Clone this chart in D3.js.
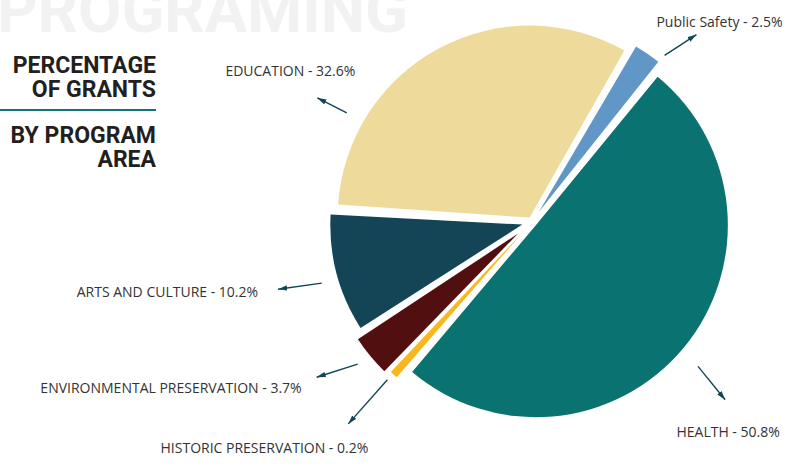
<!DOCTYPE html>
<html>
<head>
<meta charset="utf-8">
<script src="https://cdn.jsdelivr.net/npm/d3@7"></script>
<style>
  html, body { margin: 0; padding: 0; background: #fff; }
  svg { display: block; }
</style>
</head>
<body>
<div id="chart"></div>
<script>
// chart data, in the order the slices run clockwise
const categories = ["Public Safety", "HEALTH", "HISTORIC PRESERVATION", "ENVIRONMENTAL PRESERVATION", "ARTS AND CULTURE", "EDUCATION"];
const percentages = [2.5, 50.8, 0.2, 3.7, 10.2, 32.6];
const sliceColors = ["#6197c6", "#0a7270", "#f9b71e", "#520f0f", "#134556", "#eedb9b"];

// how far each slice is pulled out of the pie
const explode = [12, 5, 14, 18, 10, 5];

// label callouts: arrow start (angle, radius from pie centre), arrow heading + length,
// text offset from the arrow tip
const callouts = [
  { angle: 38.5, r: 213, dir: 57, len: 38, dx: 23, dy: -8, anchor: "middle" },
  { angle: 131, r: 220, dir: 141, len: 43, dx: 3, dy: 37, anchor: "middle" },
  { angle: 222.5, r: 214, dir: 221.6, len: 59, dx: 20, dy: 29, anchor: "end" },
  { angle: 230.8, r: 225, dir: 252.4, len: 43, dx: -15, dy: 16, anchor: "end" },
  { angle: 253.8, r: 219, dir: 262, len: 44, dx: -20, dy: 8, anchor: "end" },
  { angle: 300.5, r: 215, dir: 297, len: 33, dx: -27, dy: -22, anchor: "middle" }
];

const width = 807, height = 468;
const cx = 532, cy = 222, radius = 192;
const rad = d => d * Math.PI / 180;
const polar = (a, r) => [r * Math.sin(a), -r * Math.cos(a)];

const svg = d3.select("#chart").append("svg")
  .attr("width", width)
  .attr("height", height);

svg.append("defs").append("marker")
  .attr("id", "arrow")
  .attr("viewBox", "0 0 10 6")
  .attr("refX", 10).attr("refY", 3)
  .attr("markerWidth", 9).attr("markerHeight", 5.5)
  .attr("markerUnits", "userSpaceOnUse")
  .attr("orient", "auto")
  .append("path")
  .attr("d", "M0,0L10,3L0,6Z")
  .attr("fill", "#134556");

// faint watermark heading cut off by the top edge
svg.append("text")
  .attr("x", -3).attr("y", 32)
  .attr("font-family", "Roboto, sans-serif")
  .attr("font-weight", 700)
  .attr("font-size", 63)
  .attr("fill", "#f2f2f2")
  .text("PROGRAMING");

// title block
const title = svg.append("g")
  .attr("font-family", "Roboto, sans-serif")
  .attr("font-weight", 700)
  .attr("font-size", 23)
  .attr("fill", "#231f20")
  .attr("text-anchor", "end");
[["PERCENTAGE", 73], ["OF GRANTS", 97], ["BY PROGRAM", 143], ["AREA", 167]].forEach(([t, y]) => {
  title.append("text").attr("x", 156).attr("y", y).text(t);
});
svg.append("line")
  .attr("x1", 0).attr("x2", 156)
  .attr("y1", 110).attr("y2", 110)
  .attr("stroke", "#137575")
  .attr("stroke-width", 2.2);

// pie: tiny slices get a minimum share so they stay visible
const data = categories.map((c, i) => ({ category: c, value: percentages[i], color: sliceColors[i], pull: explode[i] }));
const pie = d3.pie()
  .sort(null)
  .value(d => Math.max(d.value, 0.9))
  .startAngle(rad(30))
  .endAngle(rad(30) + 2 * Math.PI);

const arc = d3.arc()
  .innerRadius(0)
  .outerRadius(radius)
  .padAngle(0.015);

const arcs = pie(data);

svg.append("g")
  .attr("transform", `translate(${cx},${cy})`)
  .selectAll("path")
  .data(arcs)
  .join("path")
  .attr("transform", d => {
    const [x, y] = polar((d.startAngle + d.endAngle) / 2, d.data.pull);
    return `translate(${x},${y})`;
  })
  .attr("d", arc)
  .attr("fill", d => d.data.color);

// callouts
const labels = svg.append("g").attr("transform", `translate(${cx},${cy})`);
data.forEach((d, i) => {
  const c = callouts[i];
  const [x1, y1] = polar(rad(c.angle), c.r);
  const [mx, my] = polar(rad(c.dir), c.len);
  const x2 = x1 + mx, y2 = y1 + my;
  labels.append("line")
    .attr("x1", x1).attr("y1", y1)
    .attr("x2", x2).attr("y2", y2)
    .attr("stroke", "#134556")
    .attr("stroke-width", 1.4)
    .attr("marker-end", "url(#arrow)");
  labels.append("text")
    .attr("x", x2 + c.dx).attr("y", y2 + c.dy)
    .attr("text-anchor", c.anchor)
    .attr("font-family", "'Open Sans', sans-serif")
    .attr("font-size", 14)
    .attr("fill", "#333")
    .text(`${d.category} - ${d.value}%`);
});
</script>
</body>
</html>
